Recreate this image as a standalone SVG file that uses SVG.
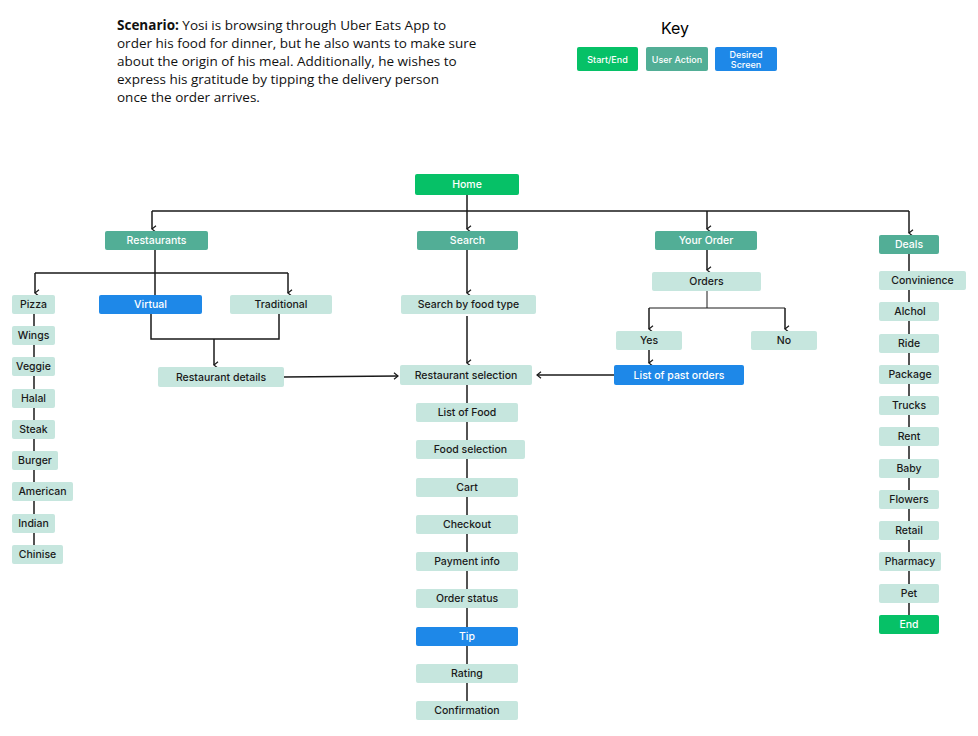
<svg xmlns="http://www.w3.org/2000/svg" width="978" height="736" viewBox="0 0 978 736">
<style>
text{font-family:Inter,"Noto Sans",sans-serif;font-size:10.5px;font-weight:500;text-anchor:middle;dominant-baseline:central}
.s rect{fill:#06c167}.a rect{fill:#52ae96}.d rect{fill:#1e88e8}.l rect{fill:#c6e6de}
.s text,.a text,.d text{fill:#fff}.l text{fill:#1a1a1a}
.c{stroke:#1a1a1a;stroke-width:1.5;fill:none}
.sc{font-family:"Open Sans",sans-serif;font-size:13.5px;font-weight:400;text-anchor:start;dominant-baseline:auto;fill:#111}
</style>
<defs><marker id="ar" viewBox="0 0 10 10" refX="5" refY="9" markerWidth="8" markerHeight="8" orient="auto-start-reverse" markerUnits="userSpaceOnUse"><path d="M1 4 L5 9 L9 4" fill="none" stroke="#1a1a1a" stroke-width="1.5"/></marker>
<marker id="ah" viewBox="0 0 10 10" refX="9" refY="5" markerWidth="8" markerHeight="8" orient="auto" markerUnits="userSpaceOnUse"><path d="M4 1 L9 5 L4 9" fill="none" stroke="#1a1a1a" stroke-width="1.5"/></marker></defs>
<text class="sc" x="117" y="30"><tspan font-weight="700">Scenario:</tspan> Yosi is browsing through Uber Eats App to</text>
<text class="sc" x="117" y="48">order his food for dinner, but he also wants to make sure</text>
<text class="sc" x="117" y="66">about the origin of his meal. Additionally, he wishes to</text>
<text class="sc" x="117" y="84">express his gratitude by tipping the delivery person</text>
<text class="sc" x="117" y="102">once the order arrives.</text>
<text x="675" y="28" style="font-size:16px;font-weight:400">Key</text>
<g id="key-start" class="s"><rect x="577" y="47" width="61" height="24" rx="2"/><text x="607.5" y="59" style="font-size:9px">Start/End</text></g>
<g id="key-action" class="a"><rect x="646" y="47" width="62" height="24" rx="2"/><text x="677" y="59" style="font-size:9px">User Action</text></g>
<g id="key-desired" class="d"><rect x="715" y="47" width="62" height="24" rx="2"/><text x="746" y="54" style="font-size:9px">Desired</text><text x="746" y="64" style="font-size:9px">Screen</text></g>
<g id="connectors" class="c">
<path d="M467 195V211M152 211H909"/>
<path d="M152 211V229" marker-end="url(#ar)"/><path d="M467 211V229" marker-end="url(#ar)"/><path d="M707 211V229" marker-end="url(#ar)"/><path d="M909 211V233" marker-end="url(#ar)"/>
<path d="M155 250V295M35 273H288"/>
<path d="M35 273V293" marker-end="url(#ar)"/><path d="M288 273V293" marker-end="url(#ar)"/>
<path d="M151 314V339H279V314"/><path d="M214 339V365" marker-end="url(#ar)"/>
<path d="M284 377L398 376" marker-end="url(#ah)"/>
<path d="M467 250V293" marker-end="url(#ar)"/><path d="M467 316V363" marker-end="url(#ar)"/>
<path d="M614 375H537" marker-end="url(#ah)"/>
<path d="M707 250V270" marker-end="url(#ar)"/>
<path d="M707 291V308M649 308H785" stroke-width="1"/><path d="M649 308V329" marker-end="url(#ar)"/><path d="M785 308V329" marker-end="url(#ar)"/>
<path d="M649 350V363" marker-end="url(#ar)"/>
<path d="M467 385V701"/>
<path d="M34 314V545"/>
<path d="M909 254V615" stroke-dasharray="none"/>
</g>
<g id="home" class="s"><rect x="415" y="174" width="104" height="21" rx="2"/><text x="467" y="184.5">Home</text></g>
<g id="restaurants" class="a"><rect x="105" y="231" width="103" height="19" rx="2"/><text x="156.5" y="240.5">Restaurants</text></g>
<g id="search" class="a"><rect x="417" y="231" width="101" height="19" rx="2"/><text x="467.5" y="240.5">Search</text></g>
<g id="your-order" class="a"><rect x="655" y="231" width="102" height="19" rx="2"/><text x="706" y="240.5">Your Order</text></g>
<g id="deals" class="a"><rect x="879" y="235" width="60" height="19" rx="2"/><text x="909" y="244.5">Deals</text></g>
<g id="virtual" class="d"><rect x="99" y="295" width="103" height="19" rx="2"/><text x="150.5" y="304.5">Virtual</text></g>
<g id="traditional" class="l"><rect x="230" y="295" width="102" height="19" rx="2"/><text x="281" y="304.5">Traditional</text></g>
<g id="restaurant-details" class="l"><rect x="158" y="367" width="126" height="20" rx="2"/><text x="221" y="377">Restaurant details</text></g>
<g id="search-food-type" class="l"><rect x="401" y="295" width="135" height="19" rx="2"/><text x="468.5" y="304.5">Search by food type</text></g>
<g id="orders" class="l"><rect x="652" y="272" width="109" height="19" rx="2"/><text x="706.5" y="281.5">Orders</text></g>
<g id="yes" class="l"><rect x="616" y="331" width="66" height="19" rx="2"/><text x="649" y="340.5">Yes</text></g>
<g id="no" class="l"><rect x="751" y="331" width="66" height="19" rx="2"/><text x="784" y="340.5">No</text></g>
<g id="past-orders" class="d"><rect x="614" y="365" width="130" height="20" rx="2"/><text x="679" y="375">List of past orders</text></g>
<g id="restaurant-selection" class="l"><rect x="400" y="365" width="132" height="20" rx="2"/><text x="466" y="375">Restaurant selection</text></g>
<g id="list-food" class="l"><rect x="416" y="403" width="102" height="19" rx="2"/><text x="467" y="412.5">List of Food</text></g>
<g id="food-selection" class="l"><rect x="416" y="440" width="109" height="19" rx="2"/><text x="470.5" y="449.5">Food selection</text></g>
<g id="cart" class="l"><rect x="416" y="478" width="102" height="19" rx="2"/><text x="467" y="487.5">Cart</text></g>
<g id="checkout" class="l"><rect x="416" y="515" width="102" height="19" rx="2"/><text x="467" y="524.5">Checkout</text></g>
<g id="payment" class="l"><rect x="416" y="552" width="102" height="19" rx="2"/><text x="467" y="561.5">Payment info</text></g>
<g id="order-status" class="l"><rect x="416" y="589" width="102" height="19" rx="2"/><text x="467" y="598.5">Order status</text></g>
<g id="tip" class="d"><rect x="416" y="627" width="102" height="19" rx="2"/><text x="467" y="636.5">Tip</text></g>
<g id="rating" class="l"><rect x="416" y="664" width="102" height="19" rx="2"/><text x="467" y="673.5">Rating</text></g>
<g id="confirmation" class="l"><rect x="416" y="701" width="102" height="19" rx="2"/><text x="467" y="710.5">Confirmation</text></g>
<g id="pizza" class="l"><rect x="12" y="295" width="43" height="19" rx="2"/><text x="33.5" y="304.5">Pizza</text></g>
<g id="wings" class="l"><rect x="12" y="326" width="43" height="19" rx="2"/><text x="33.5" y="335.5">Wings</text></g>
<g id="veggie" class="l"><rect x="12" y="357" width="43" height="19" rx="2"/><text x="33.5" y="366.5">Veggie</text></g>
<g id="halal" class="l"><rect x="12" y="389" width="43" height="19" rx="2"/><text x="33.5" y="398.5">Halal</text></g>
<g id="steak" class="l"><rect x="12" y="420" width="43" height="19" rx="2"/><text x="33.5" y="429.5">Steak</text></g>
<g id="burger" class="l"><rect x="12" y="451" width="46" height="19" rx="2"/><text x="35" y="460.5">Burger</text></g>
<g id="american" class="l"><rect x="12" y="482" width="61" height="19" rx="2"/><text x="42.5" y="491.5">American</text></g>
<g id="indian" class="l"><rect x="12" y="514" width="43" height="19" rx="2"/><text x="33.5" y="523.5">Indian</text></g>
<g id="chinise" class="l"><rect x="12" y="545" width="51" height="19" rx="2"/><text x="37.5" y="554.5">Chinise</text></g>
<g id="convinience" class="l"><rect x="879" y="271" width="87" height="19" rx="2"/><text x="922.5" y="280.5">Convinience</text></g>
<g id="alchol" class="l"><rect x="879" y="302" width="60" height="19" rx="2"/><text x="910" y="311.5">Alchol</text></g>
<g id="ride" class="l"><rect x="879" y="334" width="60" height="19" rx="2"/><text x="909" y="343.5">Ride</text></g>
<g id="package" class="l"><rect x="879" y="365" width="60" height="19" rx="2"/><text x="910" y="374.5">Package</text></g>
<g id="trucks" class="l"><rect x="879" y="396" width="60" height="19" rx="2"/><text x="909" y="405.5">Trucks</text></g>
<g id="rent" class="l"><rect x="879" y="427" width="60" height="19" rx="2"/><text x="909" y="436.5">Rent</text></g>
<g id="baby" class="l"><rect x="879" y="459" width="60" height="19" rx="2"/><text x="909" y="468.5">Baby</text></g>
<g id="flowers" class="l"><rect x="879" y="490" width="60" height="19" rx="2"/><text x="909" y="499.5">Flowers</text></g>
<g id="retail" class="l"><rect x="879" y="521" width="60" height="19" rx="2"/><text x="909" y="530.5">Retail</text></g>
<g id="pharmacy" class="l"><rect x="879" y="552" width="62" height="19" rx="2"/><text x="910" y="561.5">Pharmacy</text></g>
<g id="pet" class="l"><rect x="879" y="584" width="60" height="19" rx="2"/><text x="909" y="593.5">Pet</text></g>
<g id="end" class="s"><rect x="879" y="615" width="60" height="19" rx="2"/><text x="909" y="624.5">End</text></g>
</svg>
